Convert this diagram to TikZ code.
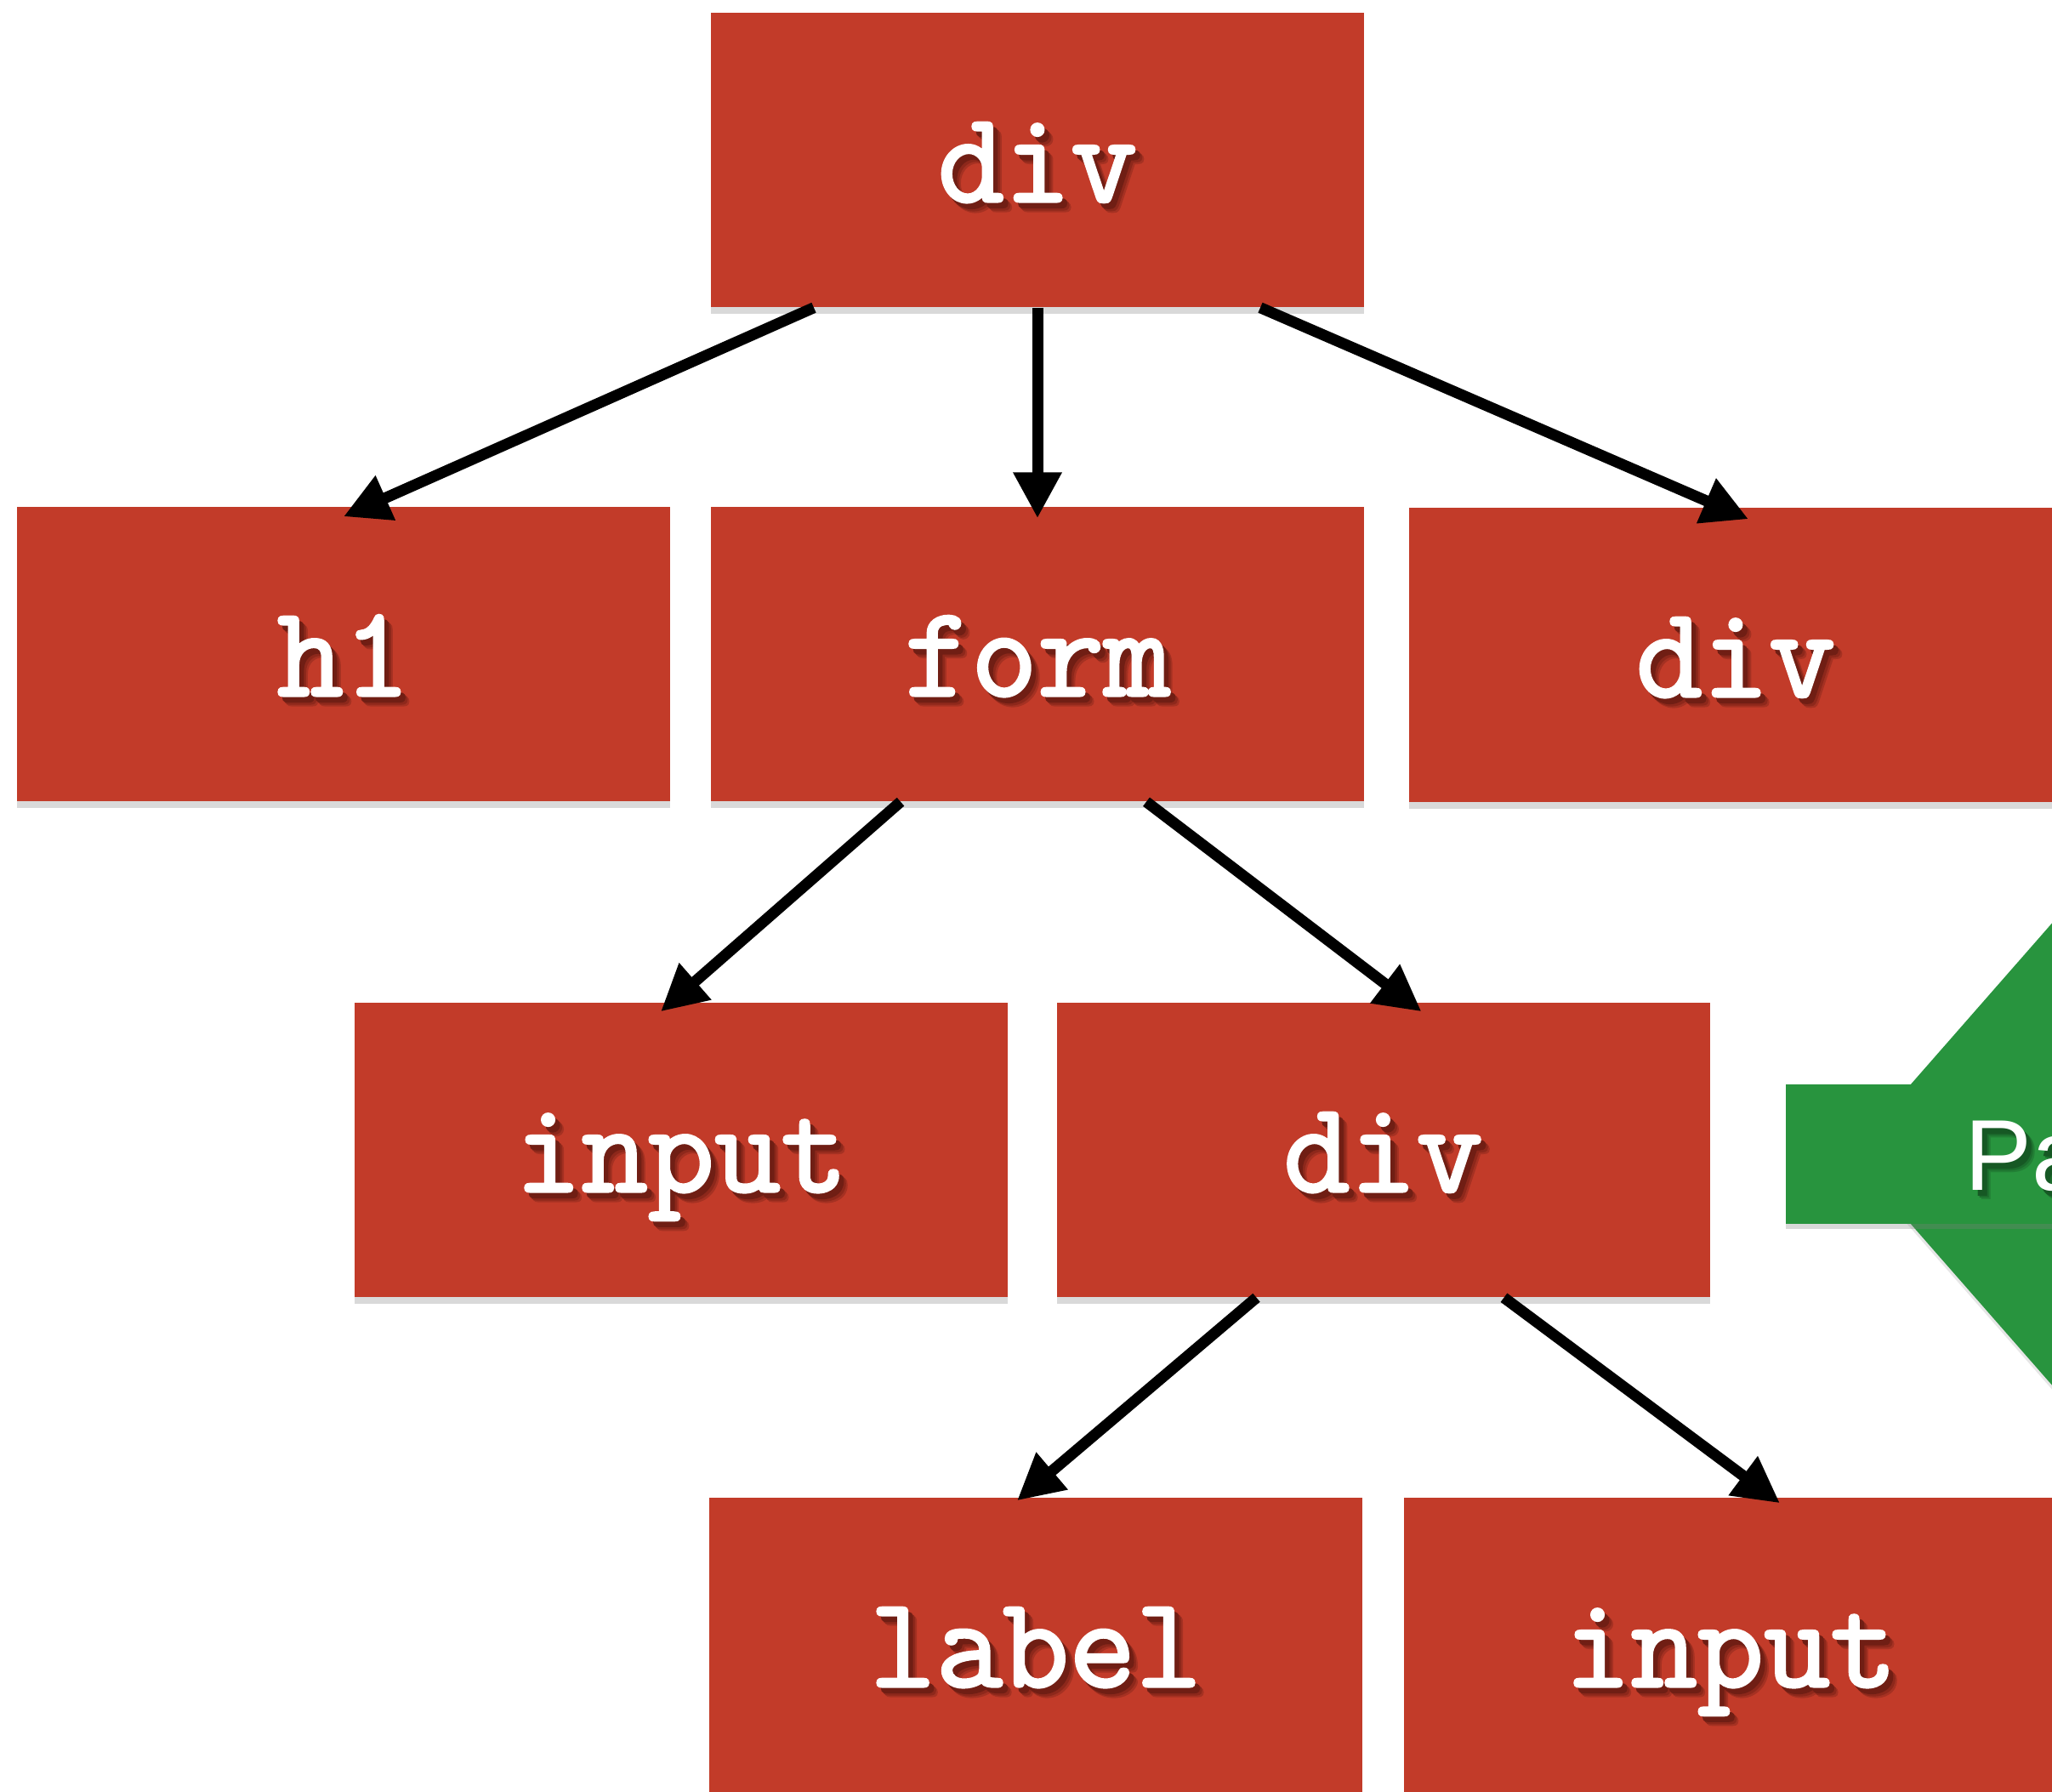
\documentclass[tikz,border=0pt]{standalone}
\usepackage{fontspec}
\setsansfont{Liberation Sans}
\newfontfamily\tagfont{Latin Modern Mono}[FakeBold=2.2]
\usetikzlibrary{arrows.meta,shadows}
\definecolor{tagred}{RGB}{194,59,41}
\definecolor{tagshade}{RGB}{112,30,20}
\definecolor{passgreen}{RGB}{40,148,62}
\definecolor{passshade}{RGB}{22,88,36}

% text with a soft dark copy behind it (#2 shade, #3 ground)
\newcommand{\shadowed}[3]{%
  \makebox[0pt][l]{\hspace{0.10cm}\raisebox{-0.11cm}{\color{#2!35!#3}#1}}%
  \makebox[0pt][l]{\hspace{0.08cm}\raisebox{-0.09cm}{\color{#2!65!#3}#1}}%
  \makebox[0pt][l]{\hspace{0.055cm}\raisebox{-0.065cm}{\color{#2}#1}}#1}

\tikzset{
  tag/.style={fill=tagred, minimum width=7.68cm, minimum height=3.46cm,
    inner sep=0pt, text=white, text height=1.1cm, text depth=0.12cm,
    font=\tagfont\bfseries\fontsize{43.2}{46}\selectfont,
    drop shadow={shadow xshift=0pt, shadow yshift=-0.08cm, opacity=0.3}},
  passbar/.style={fill=passgreen, minimum height=1.64cm, inner ysep=0pt,
    inner xsep=2.11cm, text=white, text height=0.85cm, text depth=0pt,
    font=\sffamily\fontsize{33.7}{36}\selectfont,
    drop shadow={shadow xshift=0pt, shadow yshift=-0.06cm, opacity=0.3}},
  link/.style={-{Triangle[length=0.54cm,width=0.54cm]}, line width=0.13cm}
}

\begin{document}
\begin{tikzpicture}
        \useasboundingbox (0,0) rectangle (24.13,-21.06);
        \clip (0,0) rectangle (24.13,-21.06);

        % green marker on the right
        \fill[passgreen, drop shadow={shadow xshift=0pt, shadow yshift=-0.05cm, opacity=0.2}]
          (21.75,-13.57) -- (26.0,-8.72) -- (26.0,-18.42) -- cycle;
        \node[passbar, anchor=west] (pass) at (20.99,-13.57) {\shadowed{Pa}{passshade}{passgreen}};

        % element boxes
        \node[tag] (root) at (12.20,-1.88) {\shadowed{div}{tagshade}{tagred}};
        \node[tag] (h1) at (4.04,-7.69) {\shadowed{h1}{tagshade}{tagred}};
        \node[tag] (form) at (12.20,-7.69) {\shadowed{form}{tagshade}{tagred}};
        \node[tag] (side) at (20.41,-7.70) {\shadowed{div}{tagshade}{tagred}};
        \node[tag] (field) at (8.01,-13.52) {\shadowed{input}{tagshade}{tagred}};
        \node[tag] (group) at (16.265,-13.52) {\shadowed{div}{tagshade}{tagred}};
        \node[tag] (caption) at (12.18,-19.34) {\shadowed{label}{tagshade}{tagred}};
        \node[tag] (entry) at (20.35,-19.34) {\shadowed{input}{tagshade}{tagred}};

        % parent -> child
        \draw[link] ([xshift=-2.63cm]root.south) -- ([yshift=-0.12cm]h1.north);
        \draw[link] (root.south) -- ([yshift=-0.14cm]form.north);
        \draw[link] ([xshift=2.62cm]root.south) -- ([xshift=0.15cm,yshift=-0.14cm]side.north);
        \draw[link] ([xshift=-1.61cm]form.south) -- ([xshift=-0.24cm,yshift=-0.11cm]field.north);
        \draw[link] ([xshift=1.28cm]form.south) -- ([xshift=0.45cm,yshift=-0.11cm]group.north);
        \draw[link] ([xshift=-1.49cm]group.south) -- ([xshift=-0.22cm,yshift=-0.04cm]caption.north);
        \draw[link] ([xshift=1.42cm]group.south) -- ([xshift=0.58cm,yshift=-0.07cm]entry.north);
\end{tikzpicture}
\end{document}
